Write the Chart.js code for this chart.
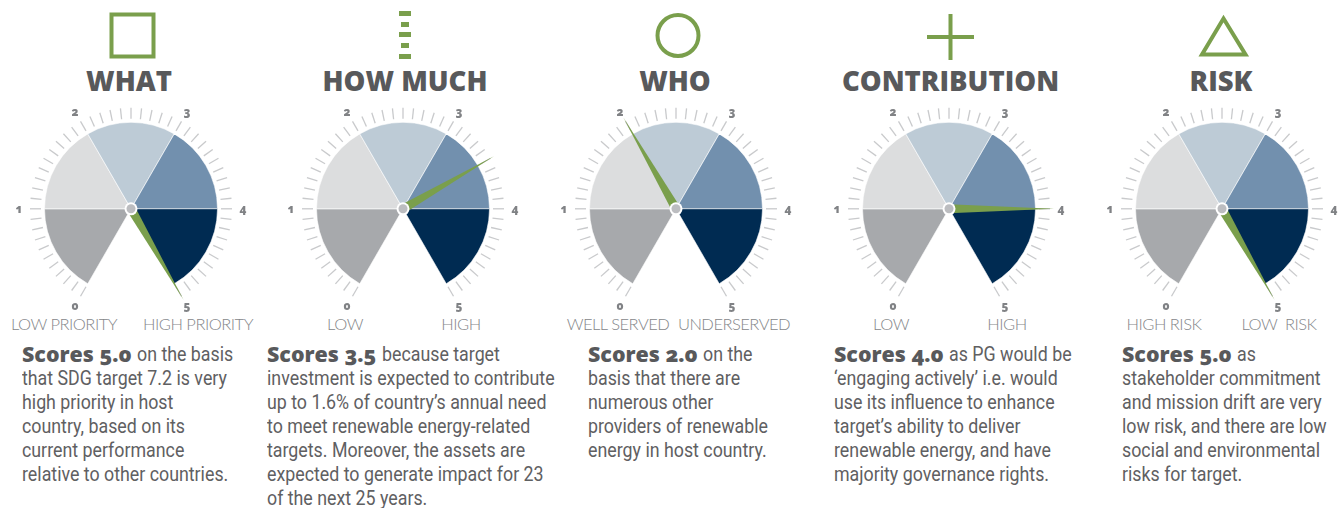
<!DOCTYPE html>
<html><head><meta charset="utf-8">
<script src="https://cdn.jsdelivr.net/npm/chart.js@4"></script>
<style>
html,body{margin:0;padding:0;background:#fff;width:1342px;height:508px;overflow:hidden}
.abs{position:absolute;white-space:pre}
.title{font:800 27.500px/32px "Open Sans",sans-serif;color:#58595b;transform:translateX(-50%);top:65px}
.end{font:300 16.500px/20px Lato,sans-serif;color:#85878a;letter-spacing:-.5px;transform:translateX(-50%);top:314px}
.line{font:20.500px/24px Roboto,sans-serif;color:#5f6062;transform:scaleX(.868);transform-origin:0 0}
.lead{font:800 21.400px/24px "Open Sans",sans-serif;color:#58595b;font-variant-numeric:oldstyle-nums}
.num{font:800 11.500px/14px "Open Sans",sans-serif;color:#808285;font-variant-numeric:oldstyle-nums;transform:translate(-50%,-50%)}
canvas{position:absolute;top:83px}
svg{position:absolute;left:0;top:0}
</style></head><body>
<svg width="1342" height="70" fill="none" stroke="#7a9f4c" stroke-width="4">
<rect x="111.500" y="14.500" width="42" height="42"/>
<g stroke="none" fill="#7a9f4c"><rect x="399" y="11" width="12" height="5"/><rect x="401" y="22" width="8" height="5"/><rect x="399" y="32" width="12" height="5"/><rect x="401" y="43" width="8" height="5"/><rect x="399" y="54" width="12" height="5"/></g>
<circle cx="678" cy="35.500" r="20.500"/>
<path d="M927 37H974M950.500 14V60"/>
<path d="M1223.500 18.500L1245.500 54.500H1202Z"/>
</svg>
<script>
const titles = ['WHAT','HOW MUCH','WHO','CONTRIBUTION','RISK'];
const titleX = [129,405,675,950.5,1221];
const scores = [5,3.5,2,4,5];
const bandWidths = [1,1,1,1,1];
const bandColors = ['#a7a9ac','#dcddde','#bdcbd6','#7290ae','#002b52'];
const scaleLabels = ['0','1','2','3','4','5'];
const centers = [131,403,676,949,1222];
const lowLabels = ['LOW PRIORITY','LOW','WELL SERVED','LOW','HIGH RISK'];
const highLabels = ['HIGH PRIORITY','HIGH','UNDERSERVED','HIGH','LOW  RISK'];
const lowX = [64,345,618,891,1164];
const highX = [198,461,734,1007,1279];
const bodyX = [22,267,588,834,1122];
const leads = ['Scores 5.0','Scores 3.5','Scores 2.0','Scores 4.0','Scores 5.0'];
const bodies = [
 ['on the basis','that SDG target 7.2 is very','high priority in host','country, based on its','current performance','relative to other countries.'],
 ['because target','investment is expected to contribute','up to 1.6% of country’s annual need','to meet renewable energy-related','targets. Moreover, the assets are','expected to generate impact for 23','of the next 25 years.'],
 ['on the','basis that there are','numerous other','providers of renewable','energy in host country.'],
 ['as PG would be','‘engaging actively’ i.e. would','use its influence to enhance','target’s ability to deliver','renewable energy, and have','majority governance rights.'],
 ['as','stakeholder commitment','and mission drift are very','low risk, and there are low','social and environmental','risks for target.']
];
const add=(cls,txt,x,y)=>{const d=document.createElement('div');d.className='abs '+cls;d.style.left=x+'px';if(y!==undefined)d.style.top=y+'px';d.textContent=txt;document.body.appendChild(d);return d;};
const gaugePlugin={id:'gauge',
 afterDatasetsDraw(chart,_,o){
  const a=chart.getDatasetMeta(0).data[0],ctx=chart.ctx,cx=a.x,cy=a.y;
  const start=chart.options.rotation*Math.PI/180-Math.PI/2;
  const span=chart.options.circumference*Math.PI/180;
  const n=bandWidths.length;
  const ang=v=>start+span*v/n;
  ctx.save();
  ctx.strokeStyle='#c9cacc';ctx.lineWidth=1.3;
  for(let i=0;i<=n*10;i++){const t=ang(i/10);ctx.beginPath();ctx.moveTo(cx+90*Math.cos(t),cy+90*Math.sin(t));ctx.lineTo(cx+101*Math.cos(t),cy+101*Math.sin(t));ctx.stroke();}
  const left=chart.canvas.offsetLeft,top=chart.canvas.offsetTop;
  if(!chart.$nums){chart.$nums=true;scaleLabels.forEach((s,i)=>{const t=ang(i);add('num',s,left+cx+112*Math.cos(t),top+cy+112*Math.sin(t));});}
  const t=ang(o.value),px=-Math.sin(t),py=Math.cos(t);
  ctx.fillStyle='#7a9f4c';ctx.beginPath();ctx.moveTo(cx+4.500*px,cy+4.500*py);ctx.lineTo(cx-4.500*px,cy-4.500*py);ctx.lineTo(cx+105*Math.cos(t),cy+105*Math.sin(t));ctx.closePath();ctx.fill();
  ctx.fillStyle='#fff';ctx.beginPath();ctx.arc(cx,cy,6.500,0,7);ctx.fill();
  ctx.fillStyle='#bcbdc0';ctx.beginPath();ctx.arc(cx,cy,4.500,0,7);ctx.fill();
  ctx.restore();
 }};
titles.forEach((t,i)=>{
 add('title',t,titleX[i]);
 add('end',lowLabels[i],lowX[i]);
 add('end',highLabels[i],highX[i]);
 const lead=add('lead',leads[i],bodyX[i],342);
 bodies[i].forEach((l,j)=>{
  const x=j?bodyX[i]:bodyX[i]+lead.getBoundingClientRect().width+5;
  add('line',l,x,342+24*j);
 });
 const c=document.createElement('canvas');c.width=240;c.height=240;c.style.left=(centers[i]-120)+'px';document.body.appendChild(c);
 new Chart(c,{type:'pie',plugins:[gaugePlugin],
  data:{labels:scaleLabels.slice(0,5),datasets:[{data:bandWidths,backgroundColor:bandColors,borderColor:'#fff',borderWidth:0.6}]},
  options:{responsive:false,animation:false,rotation:-150,circumference:300,radius:86.5,
   layout:{padding:0},
   plugins:{legend:{display:false},tooltip:{enabled:false},gauge:{value:scores[i]}}}});
});
</script>
</body></html>
